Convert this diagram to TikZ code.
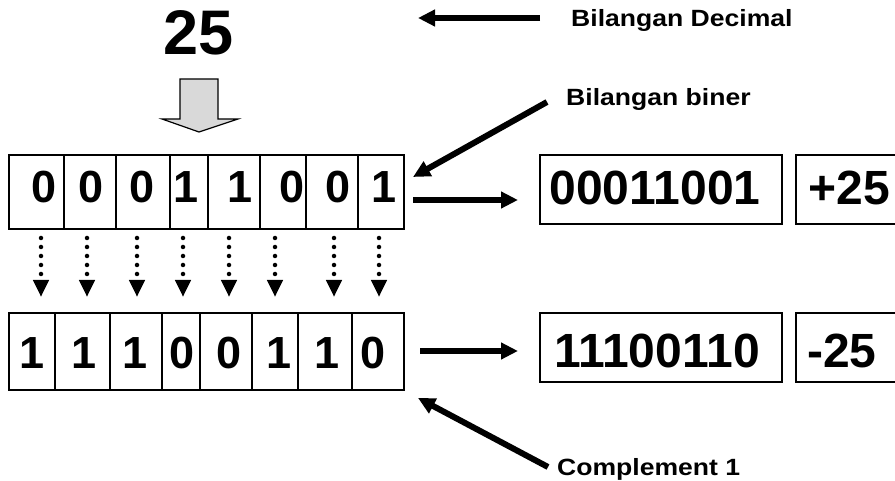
\documentclass[tikz,border=0pt]{standalone}
\usepackage{fontspec}
\setmainfont{Liberation Sans}
\newfontfamily\lblfont[FakeStretch=1.13]{Liberation Sans}
\usetikzlibrary{arrows.meta}
\begin{document}
\begin{tikzpicture}[x=1pt,y=-1pt,
  cell/.style={draw, line width=1.6pt, inner sep=0pt, outer sep=0pt, anchor=north west},
  bit/.style={font=\fontsize{45}{45}\selectfont\bfseries, anchor=base, inner sep=0pt},
  big/.style={font=\fontsize{48}{48}\selectfont\bfseries, anchor=base, inner sep=0pt},
  lbl/.style={font=\lblfont\fontsize{23.5}{24}\selectfont\bfseries, anchor=base west, inner sep=0pt},
  fatarrow/.style={line width=6pt, -{Triangle[length=17pt,width=16pt]}},
  dotarrow/.style={line width=4.5pt, line cap=round, dash pattern=on 0pt off 9pt, -{Triangle[length=17pt,width=15pt]}},
  blockarrow/.style={draw, line width=1.2pt, fill=black!15, line join=miter}
]
\useasboundingbox (0,0) rectangle (895,481);
\clip (0,0) rectangle (895,481);

% decimal number
\node[font=\fontsize{63}{63}\selectfont\bfseries, anchor=base, inner sep=0pt] (dec) at (199,55) {25};

% block arrow
\draw[blockarrow] (180,79) -- (218,79) -- (218,119) -- (238,119) -- (199,132) -- (162,119) -- (180,119) -- cycle;

% top row cells
\node[cell, minimum width=55pt, minimum height=74pt] (t1) at (9,155) {};
\node[cell, minimum width=52pt, minimum height=74pt] (t2) at (64,155) {};
\node[cell, minimum width=54pt, minimum height=74pt] (t3) at (116,155) {};
\node[cell, minimum width=38pt, minimum height=74pt] (t4) at (170,155) {};
\node[cell, minimum width=52pt, minimum height=74pt] (t5) at (208,155) {};
\node[cell, minimum width=46pt, minimum height=74pt] (t6) at (260,155) {};
\node[cell, minimum width=52pt, minimum height=74pt] (t7) at (306,155) {};
\node[cell, minimum width=46pt, minimum height=74pt] (t8) at (358,155) {};

\node[bit] (td1) at (44,203) {0};
\node[bit] (td2) at (91,203) {0};
\node[bit] (td3) at (142,203) {0};
\node[bit] (td4) at (186,203) {1};
\node[bit] (td5) at (240,203) {1};
\node[bit] (td6) at (292,203) {0};
\node[bit] (td7) at (338,203) {0};
\node[bit] (td8) at (384,203) {1};

% bottom row cells
\node[cell, minimum width=46pt, minimum height=77pt] (b1) at (9,313) {};
\node[cell, minimum width=55pt, minimum height=77pt] (b2) at (55,313) {};
\node[cell, minimum width=52pt, minimum height=77pt] (b3) at (110,313) {};
\node[cell, minimum width=38pt, minimum height=77pt] (b4) at (162,313) {};
\node[cell, minimum width=52pt, minimum height=77pt] (b5) at (200,313) {};
\node[cell, minimum width=46pt, minimum height=77pt] (b6) at (252,313) {};
\node[cell, minimum width=54pt, minimum height=77pt] (b7) at (298,313) {};
\node[cell, minimum width=52pt, minimum height=77pt] (b8) at (352,313) {};

\node[bit] (bd1) at (32,368) {1};
\node[bit] (bd2) at (84,368) {1};
\node[bit] (bd3) at (135,368) {1};
\node[bit] (bd4) at (182,368) {0};
\node[bit] (bd5) at (229,368) {0};
\node[bit] (bd6) at (279,368) {1};
\node[bit] (bd7) at (327,368) {1};
\node[bit] (bd8) at (373,368) {0};

% dotted arrows
\foreach \i/\x in {1/41,2/87,3/137,4/183,5/229,6/275,7/334,8/379}{
  \coordinate (ds\i) at (\x,238);
  \coordinate (de\i) at (\x,297);
  \draw[dotarrow] (ds\i) -- (de\i);
}

% result boxes
\node[cell, minimum width=242pt, minimum height=69pt] (r1) at (540,155) {};
\node[cell, minimum width=120pt, minimum height=69pt] (s1) at (796,155) {};
\node[cell, minimum width=242pt, minimum height=69pt] (r2) at (540,313) {};
\node[cell, minimum width=120pt, minimum height=69pt] (s2) at (796,313) {};

\node[big] (rt1) at (655,205) {00011001};
\node[big] (st1) at (849,205) {+25};
\node[big] (rt2) at (657,367) {11100110};
\node[big] (st2) at (842,367) {-25};

% labels
\node[lbl] (ldec) at (571,27) {Bilangan Decimal};
\node[lbl] (lbin) at (566,106) {Bilangan biner};
\node[lbl] (lcom) at (557,475) {Complement 1};

% arrows
\coordinate (a1s) at (540,18);  \coordinate (a1e) at (418,18);
\coordinate (a2s) at (547,102); \coordinate (a2e) at (413,177);
\coordinate (a3s) at (413,200); \coordinate (a3e) at (518,200);
\coordinate (a4s) at (420,351); \coordinate (a4e) at (518,351);
\coordinate (a5s) at (548,467); \coordinate (a5e) at (418,398);
\draw[fatarrow] (a1s) -- (a1e);
\draw[fatarrow] (a2s) -- (a2e);
\draw[fatarrow] (a3s) -- (a3e);
\draw[fatarrow] (a4s) -- (a4e);
\draw[fatarrow] (a5s) -- (a5e);
\end{tikzpicture}
\end{document}
